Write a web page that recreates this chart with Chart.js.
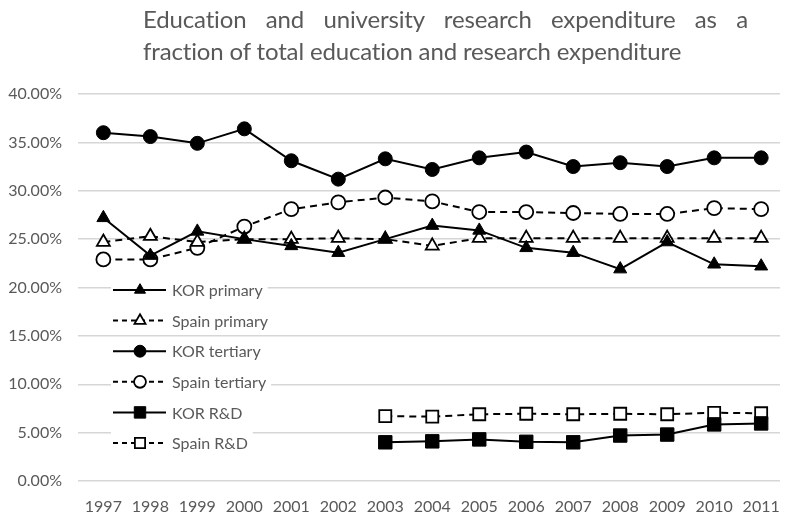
<!DOCTYPE html>
<html>
<head>
<meta charset="utf-8">
<script src="https://cdn.jsdelivr.net/npm/chart.js@4.4.0/dist/chart.umd.min.js"></script>
<style>
    html, body { margin: 0; padding: 0; background: #fff; }
    #wrap { position: relative; width: 796px; height: 515px; }
    #title {
        position: absolute; left: 143px; top: 3px; width: 605px;
        font-family: Lato, sans-serif; font-size: 24px; line-height: 32px; color: #595959;
        letter-spacing: -0.15px;
    }
    #title .l1 { text-align: justify; text-align-last: justify; white-space: nowrap; }
    #title .l2 { white-space: nowrap; }
    canvas { position: absolute; left: 0; top: 0; }
</style>
</head>
<body>
<div id="wrap">
    <canvas id="chart" width="796" height="515"></canvas>
    <div id="title">
        <div class="l1">Education and university research expenditure as a</div>
        <div class="l2">fraction of total education and research expenditure</div>
    </div>
</div>
<script>
// ── Data ─────────────────────────────────────────────────────
const years = [1997, 1998, 1999, 2000, 2001, 2002, 2003, 2004, 2005, 2006, 2007, 2008, 2009, 2010, 2011];
const yTicks = [0, 5, 10, 15, 20, 25, 30, 35, 40];

const korPrimary    = [27.2, 23.3, 25.8, 25.0, 24.3, 23.6, 25.0, 26.4, 25.9, 24.1, 23.6, 21.9, 24.7, 22.4, 22.2];
const spainPrimary  = [24.7, 25.3, 24.7, 25.0, 25.0, 25.1, 25.0, 24.3, 25.1, 25.1, 25.1, 25.1, 25.1, 25.1, 25.1];
const korTertiary   = [36.0, 35.6, 34.9, 36.4, 33.1, 31.2, 33.3, 32.2, 33.4, 34.0, 32.5, 32.9, 32.5, 33.4, 33.4];
const spainTertiary = [22.9, 22.9, 24.1, 26.3, 28.1, 28.8, 29.3, 28.9, 27.8, 27.8, 27.7, 27.6, 27.6, 28.2, 28.1];
const korRD         = [null, null, null, null, null, null, 4.0, 4.1, 4.3, 4.05, 4.0, 4.7, 4.8, 5.85, 5.95];
const spainRD       = [null, null, null, null, null, null, 6.7, 6.65, 6.9, 6.95, 6.9, 6.95, 6.9, 7.05, 7.0];

const TEXT = '#595959';
const FONT = 'Lato, sans-serif';

function series(label, values, style, radius, hollow) {
    return {
        label,
        data: years.map((y, i) => ({ x: y, y: values[i] })),
        borderColor: '#000',
        borderWidth: 2,
        borderDash: hollow ? [7, 5] : [],
        pointStyle: style,
        pointRadius: radius,
        pointBorderWidth: hollow ? 1.8 : 1,
        pointBorderColor: '#000',
        pointBackgroundColor: hollow ? '#fff' : '#000',
        spanGaps: false,
        tension: 0,
    };
}

// ── Legend drawn inside the plot ─────────────────────────────
const insideLegend = {
    id: 'insideLegend',
    afterDatasetsDraw(chart) {
        const ctx = chart.ctx;
        ctx.save();
        ctx.font = '16px ' + FONT;
        chart.data.datasets.forEach((ds, i) => {
            const y = 290 + i * 30.6;
            const w = ctx.measureText(ds.label).width;
            ctx.fillStyle = '#fff';
            ctx.fillRect(111, y - 11, 172 + w + 5 - 111, 22);

            ctx.strokeStyle = '#000';
            ctx.lineWidth = 2;
            ctx.setLineDash(ds.borderDash.length ? [5, 4] : []);
            ctx.beginPath();
            ctx.moveTo(113, y);
            ctx.lineTo(166, y);
            ctx.stroke();
            ctx.setLineDash([]);

            ctx.fillStyle = ds.pointBackgroundColor;
            ctx.strokeStyle = '#000';
            ctx.lineWidth = ds.pointBorderWidth;
            Chart.helpers.drawPoint(ctx, {
                pointStyle: ds.pointStyle,
                radius: ds.pointRadius * 0.85,
                borderWidth: ds.pointBorderWidth,
                rotation: 0,
            }, 140, y);

            ctx.fillStyle = TEXT;
            ctx.textBaseline = 'middle';
            ctx.textAlign = 'left';
            ctx.fillText(ds.label, 172, y + 1);
        });
        ctx.restore();
    },
};

new Chart(document.getElementById('chart'), {
    type: 'line',
    data: {
        datasets: [
            series('KOR primary', korPrimary, 'triangle', 7.5, false),
            series('Spain primary', spainPrimary, 'triangle', 7.5, true),
            series('KOR tertiary', korTertiary, 'circle', 7, false),
            series('Spain tertiary', spainTertiary, 'circle', 7, true),
            series('KOR R&D', korRD, 'rect', 9.5, false),
            series('Spain R&D', spainRD, 'rect', 8.5, true),
        ],
    },
    options: {
        responsive: false,
        animation: false,
        layout: { padding: { top: 94, left: 0, right: 0, bottom: 0 } },
        scales: {
            x: {
                type: 'linear',
                min: 1996.46,
                max: 2011.4,
                afterBuildTicks: axis => { axis.ticks = years.map(v => ({ value: v })); },
                afterFit: axis => { axis.height = 34; },
                grid: { display: false, drawTicks: false },
                border: { display: false },
                ticks: {
                    color: TEXT,
                    font: { family: FONT, size: 16 },
                    padding: 16,
                    maxRotation: 0,
                    autoSkip: false,
                    callback: v => String(v),
                },
            },
            y: {
                min: 0,
                max: 40,
                afterBuildTicks: axis => { axis.ticks = yTicks.map(v => ({ value: v })); },
                afterFit: axis => { axis.width = 78; },
                grid: { color: '#d6d6d6', lineWidth: 1.5, drawTicks: false },
                border: { display: false },
                ticks: {
                    color: TEXT,
                    font: { family: FONT, size: 16 },
                    padding: 16,
                    callback: v => v.toFixed(2) + '%',
                },
            },
        },
        plugins: {
            legend: { display: false },
            tooltip: { enabled: false },
        },
    },
    plugins: [insideLegend],
});
</script>
</body>
</html>
